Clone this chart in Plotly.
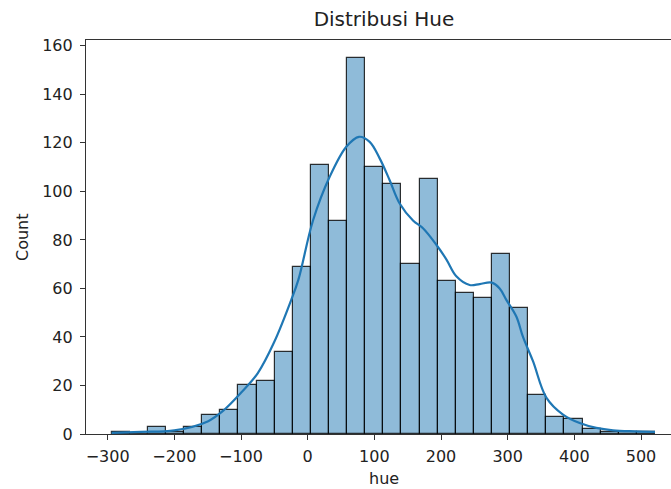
import numpy as np
import plotly.graph_objects as go

# Histogram data (30 equal-width bins)
hist_min = -294.0
hist_max = 521.0
counts = [1, 0, 3, 1, 3, 8, 10, 20, 22, 34, 69, 111, 88, 155, 110,
          103, 70, 105, 63, 58, 56, 74, 52, 16, 7, 6, 2, 1, 1, 1]

# KDE curve (scaled to counts)
kde_x = [-294, -250, -200, -150, -125, -100, -75, -50, -25, -14, 8, 33, 58, 77,
         93, 108, 123, 138, 158, 173, 193, 208, 223, 243, 258, 276, 288, 298,
         313, 323, 338, 358, 383, 408, 433, 458, 490, 521]
kde_y = [0.5, 0.9, 1.5, 5.2, 10, 17, 25, 38, 55, 63.5, 88, 106, 118.4, 122.5,
         120.4, 113.6, 104.6, 95, 88, 84.8, 78, 72, 65, 61.4, 61.8, 62.4, 60, 55.3,
         48.4, 40, 30, 15, 8, 4.5, 2.5, 1.5, 1.1, 0.9]

x_ticks = [-300, -200, -100, 0, 100, 200, 300, 400, 500]
y_ticks = [0, 20, 40, 60, 80, 100, 120, 140, 160]

edges = np.linspace(hist_min, hist_max, len(counts) + 1)
centers = (edges[:-1] + edges[1:]) / 2
widths = np.diff(edges)

W, H = 671, 489
L, T, B = 86, 40, 55

fig = go.Figure()
fig.add_trace(go.Bar(
    x=centers, y=counts, width=widths,
    marker=dict(color="rgba(31,119,180,0.5)",
                line=dict(color="rgba(0,0,0,0.8)", width=1.2)),
    hoverinfo="x+y", showlegend=False))
fig.add_trace(go.Scatter(
    x=kde_x, y=kde_y, mode="lines",
    line=dict(color="#1f77b4", width=2.2, shape="spline", smoothing=1.0),
    showlegend=False))

font_family = "DejaVu Sans"
FS = 16
fig.update_layout(
    width=W, height=H,
    margin=dict(l=L, r=0, t=T, b=B, pad=0),
    plot_bgcolor="white", paper_bgcolor="white",
    bargap=0,
    font=dict(family=font_family, size=FS, color="#222"),
    title=dict(text="Distribusi Hue", x=384 / W, xref="container", xanchor="center",
               y=1 - 19 / H, yref="container", yanchor="middle",
               font=dict(family=font_family, size=20, color="#222")),
)
fig.update_xaxes(
    range=[-332.5, 545], tickvals=x_ticks, ticktext=[str(v).replace("-", "\u2212") for v in x_ticks],
    showline=True, linecolor="#333", linewidth=1.2, mirror=True,
    ticks="outside", ticklen=5, tickcolor="#333", tickwidth=1.2,
    showgrid=False, zeroline=False, ticklabelstandoff=3,
    tickfont=dict(family=font_family, size=FS, color="#222"))
fig.update_yaxes(
    range=[0, 162.4], tickvals=y_ticks,
    showline=True, linecolor="#333", linewidth=1.2, mirror=False,
    ticks="outside", ticklen=5, tickcolor="#333", tickwidth=1.2,
    showgrid=False, zeroline=False, ticklabelstandoff=4,
    tickfont=dict(family=font_family, size=FS, color="#222"))

fig.add_annotation(text="hue", xref="paper", yref="paper",
                   x=(384 - L) / (W - L), y=-(478 - (H - B)) / (H - T - B),
                   xanchor="center", yanchor="middle", showarrow=False,
                   font=dict(family=font_family, size=FS, color="#222"))
fig.add_annotation(text="Count", xref="paper", yref="paper",
                   x=-(L - 22) / (W - L), y=0.5, textangle=-90,
                   xanchor="center", yanchor="middle", showarrow=False,
                   font=dict(family=font_family, size=FS, color="#222"))

fig.write_html("out.html")
